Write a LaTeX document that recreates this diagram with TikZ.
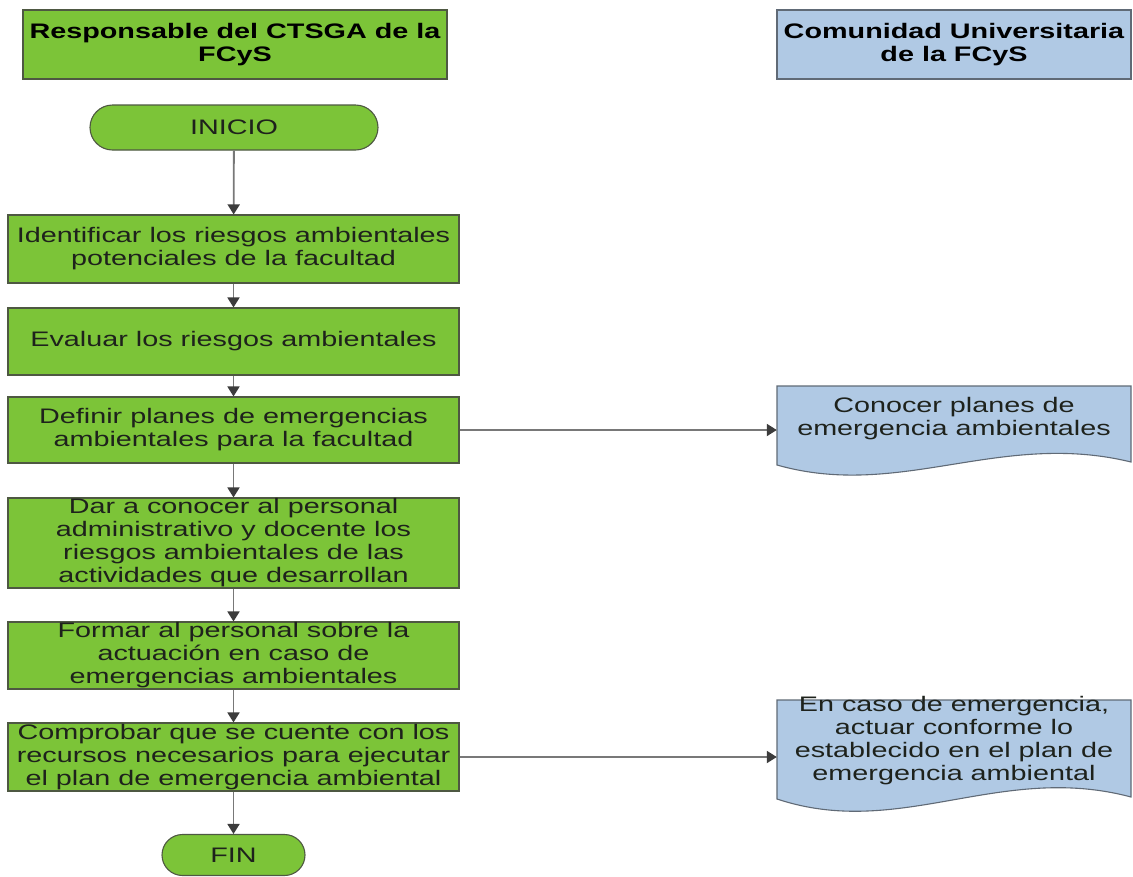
\documentclass[tikz,border=0pt]{standalone}
\usepackage{fontspec}
\setmainfont{Liberation Sans}[FakeStretch=1.37]
\usetikzlibrary{arrows.meta,shapes.misc}

\definecolor{boxgreen}{RGB}{124,196,56}
\definecolor{boxedge}{RGB}{78,88,66}
\definecolor{docblue}{RGB}{176,201,228}
\definecolor{docedge}{RGB}{96,106,118}
\definecolor{linegrey}{RGB}{120,120,120}
\definecolor{tipgrey}{RGB}{60,60,60}
\definecolor{txt}{RGB}{30,34,28}

\newcommand\bodysize{\fontsize{21}{23}\selectfont}

\tikzset{
  stepbox/.style={draw=boxedge, fill=boxgreen, line width=1.1pt,
    minimum width=451pt, inner sep=0pt, align=center, font=\bodysize, text=txt},
  term/.style={rounded rectangle, draw=boxedge, fill=boxgreen, line width=1.1pt,
    inner sep=0pt, font=\bodysize, text=txt},
  lanegreen/.style={draw=boxedge, fill=boxgreen, line width=1.1pt, inner sep=0pt,
    align=center, font=\bodysize\bfseries, text=black},
  laneblue/.style={draw=docedge, fill=docblue, line width=1.1pt, inner sep=0pt,
    align=center, font=\bodysize\bfseries, text=black},
  doctext/.style={inner sep=0pt, minimum width=354pt, align=center,
    font=\bodysize, text=txt},
  docshape/.style={draw=docedge, fill=docblue, line width=1.1pt},
  flow/.style={draw=linegrey, line width=1.8pt,
    -{Triangle[width=12pt,length=10pt,color=tipgrey]}},
}

\begin{document}
\begin{tikzpicture}[x=1pt,y=-1pt]
  \fill[white] (0,0) rectangle (1133,876);
  \useasboundingbox (0,0) rectangle (1133,876);

  % swimlane headers
  \node[lanegreen, minimum width=424pt, minimum height=69pt] (laneA) at (235,44.5)
    {Responsable del CTSGA de la\\FCyS};
  \node[laneblue, minimum width=354pt, minimum height=69pt] (laneB) at (954,44.5)
    {Comunidad Universitaria\\de la FCyS};

  % main column
  \node[term, minimum width=288pt, minimum height=45pt] (start) at (234,127.5) {INICIO};
  \node[stepbox, minimum height=68pt] (s1) at (233.5,249)
    {Identificar los riesgos ambientales\\potenciales de la facultad};
  \node[stepbox, minimum height=67pt] (s2) at (233.5,341.5)
    {Evaluar los riesgos ambientales};
  \node[stepbox, minimum height=66pt] (s3) at (233.5,430)
    {Definir planes de emergencias\\ambientales para la facultad};
  \node[stepbox, minimum height=90pt] (s4) at (233.5,543)
    {Dar a conocer al personal\\administrativo y docente los\\riesgos ambientales de las\\actividades que desarrollan};
  \node[stepbox, minimum height=67pt] (s5) at (233.5,655.5)
    {Formar al personal sobre la\\actuación en caso de\\emergencias ambientales};
  \node[stepbox, minimum height=68pt] (s6) at (233.5,757)
    {Comprobar que se cuente con los\\recursos necesarios para ejecutar\\el plan de emergencia ambiental};
  \node[term, minimum width=143pt, minimum height=41pt] (finish) at (233.5,855) {FIN};

  % document shapes in the right lane
  \draw[docshape] (777,386) -- (1131,386) -- (1131,462)
    .. controls (1000,430) and (900,500) .. (777,465) -- cycle;
  \node[doctext] (d1) at (954,419)
    {Conocer planes de\\emergencia ambientales};

  \draw[docshape] (777,700) -- (1131,700) -- (1131,797)
    .. controls (1000,762) and (900,840) .. (777,799) -- cycle;
  \node[doctext] (d2) at (954,741)
    {En caso de emergencia,\\actuar conforme lo\\establecido en el plan de\\emergencia ambiental};

  % connectors
  \draw[flow] (start) -- (s1);
  \draw[flow] (s1) -- (s2);
  \draw[flow] (s2) -- (s3);
  \draw[flow] (s3) -- (s4);
  \draw[flow] (s4) -- (s5);
  \draw[flow] (s5) -- (s6);
  \draw[flow] (s6) -- (finish);
  \draw[flow] (s3.east) -- (s3.east -| d1.west);
  \draw[flow] (s6.east) -- (s6.east -| d2.west);
\end{tikzpicture}
\end{document}
